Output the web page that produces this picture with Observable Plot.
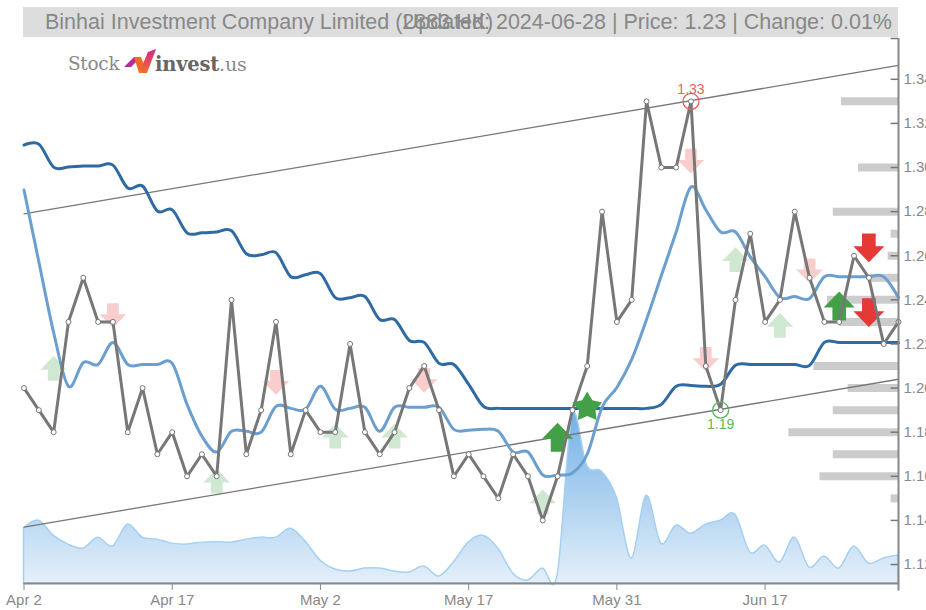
<!DOCTYPE html>
<html>
<head>
<meta charset="utf-8">
<script src="https://cdn.jsdelivr.net/npm/d3@7"></script>
<script src="https://cdn.jsdelivr.net/npm/@observablehq/plot@0.6"></script>
<style>
html,body{margin:0;padding:0;background:#fff;overflow:hidden}
#wrap{position:relative;width:926px;height:610px;overflow:hidden;font-family:"Liberation Sans",sans-serif}
#bar{position:absolute;left:23px;top:7px;width:875px;height:30px;background:#ddd}
.ttl{position:absolute;top:9px;font-size:21.5px;line-height:26px;color:#888;white-space:nowrap}
#logo{position:absolute;left:68px;top:48px;height:28px;width:190px}
#logo span{position:absolute;top:4px;font-family:"DejaVu Serif",serif;font-size:18.5px;line-height:24px;white-space:nowrap}
#chart{position:absolute;left:0;top:0}
</style>
</head>
<body>
<div id="wrap">
<div id="chart"></div>
<div id="bar"></div>
<div class="ttl" id="t1" style="left:45px"></div>
<div class="ttl" id="t2" style="right:34px"></div>
<div id="logo">
<span style="left:0;color:#8a8a8a;letter-spacing:-.3px">Stock</span>
<svg style="position:absolute;left:56px;top:1px" width="32" height="25" viewBox="0 0 32 25">
<defs><linearGradient id="chk" x1="0" y1="0" x2="0" y2="1"><stop offset="0" stop-color="#d6228f"/><stop offset="1" stop-color="#f0702a"/></linearGradient></defs>
<polygon points="0,18 10,8 17,8 7,18" fill="#b72a9a"/>
<polygon points="10,8 17,8 23,24 15,24" fill="#f26a26"/>
<polygon points="15,24 23,24 32,0 24,3" fill="url(#chk)"/>
</svg>
<span style="left:87px;color:#666;font-weight:bold;letter-spacing:-.2px;font-size:19.5px">invest<span style="position:static;font-weight:normal;color:#8a8a8a;font-size:19px">.us</span></span>
</div>
</div>
<script>
const titleLeft = "Binhai Investment Company Limited (2883.HK)";
const titleRight = "Updated: 2024-06-28 | Price: 1.23 | Change: 0.01%";

const price = [1.20,1.19,1.18,1.23,1.25,1.23,1.23,1.18,1.20,1.17,1.18,1.16,1.17,1.16,1.24,1.17,1.19,1.23,1.17,1.19,
  1.18,1.18,1.22,1.18,1.17,1.18,1.20,1.21,1.19,1.16,1.17,1.16,1.15,1.17,1.16,1.14,1.16,1.19,1.21,1.28,
  1.23,1.24,1.33,1.30,1.30,1.33,1.21,1.19,1.24,1.27,1.23,1.24,1.28,1.25,1.23,1.23,1.26,1.25,1.22,1.23];
const maLong = [1.3102,1.3106,1.3002,1.3002,1.3007,1.3007,1.3011,1.2907,1.2916,1.2803,1.2808,1.2704,1.2704,1.2708,1.2713,1.2609,1.2604,1.2614,1.2505,1.2514,
  1.2519,1.241,1.241,1.2415,1.2311,1.2311,1.2216,1.2207,1.2112,1.2107,1.2017,1.1917,1.1908,1.1908,1.1908,1.1908,1.1908,1.1908,1.1908,1.1908,
  1.1908,1.1908,1.1908,1.1926,1.2008,1.2012,1.2008,1.2017,1.2103,1.2107,1.2107,1.2107,1.2107,1.2103,1.2207,1.2207,1.2207,1.2207,1.2207,1.2207];
const maShort = [1.2898,1.2573,1.2252,1.2008,1.2116,1.2107,1.2207,1.2107,1.2107,1.2107,1.2112,1.1926,1.1782,1.171,1.1804,1.1804,1.18,1.1917,1.1908,1.1904,
  1.2008,1.1904,1.1908,1.1913,1.1804,1.1913,1.1913,1.1913,1.1913,1.1813,1.1809,1.1813,1.1804,1.171,1.171,1.1606,1.1606,1.1615,1.17,1.1913,
  1.2003,1.213,1.2311,1.251,1.2708,1.2912,1.2808,1.2708,1.2708,1.2595,1.2505,1.241,1.2415,1.2406,1.2505,1.2505,1.2505,1.2505,1.2505,1.241];
const volume = [55,63,48,39,35,46,37,59,46,44,40,39,41,41.5,41,44,46,46,55,42,
  23,14,12,15,15,12,11,17,7,21,41,48,35,10,3,15,8,168,118,112,
  86,25,88,40,58,50,59,63,69,31,38,21,46,16,27,15,37,20,25,28];
const channelTop = [1.279,1.3463];
const channelBottom = [1.137,1.204];
const profilePrice = [1.33,1.30,1.28,1.27,1.26,1.25,1.24,1.23,1.21,1.20,1.19,1.18,1.17,1.16,1.15];
const profileSize = [3.85,2.7,4.4,0.5,0.7,2,4.8,4,5.7,3.4,4.4,7.4,4.4,5.3,0.5];
const lightUpX = [2,13,21,25,35,48,51];
const lightUpY = [1.2089,1.1578,1.1782,1.1782,1.1484,1.2582,1.2284];
const lightDownX = [6,17,27,45,46,53];
const lightDownY = [1.2329,1.2026,1.2035,1.3029,1.213,1.2532];
const strongUpX = [36,55];
const strongUpY = [1.1777,1.2372];
const strongDownX = [57,57];
const strongDownY = [1.2636,1.2342];
const starX = [38];
const starY = [1.1913];
const highIdx = 45, highVal = 1.33, lowIdx = 47, lowVal = 1.19;
const xTickIdx = [0,10,20,30,40,50,59];
const xTickLabels = ["Apr 2","Apr 17","May 2","May 17","May 31","Jun 17",""];
const yTicks = [1.12,1.14,1.16,1.18,1.20,1.22,1.24,1.26,1.28,1.30,1.32,1.34];
const yMin = 1.1114, yMax = 1.3585;
const volScale = 0.000452;

document.getElementById("t1").textContent = titleLeft;
document.getElementById("t2").textContent = titleRight;

const arrowUp = {draw(c,size){const w=Math.sqrt(size),h=w*.93;
  c.moveTo(0,-h/2);c.lineTo(w/2,h*.05);c.lineTo(w*.22,h*.05);c.lineTo(w*.22,h/2);c.lineTo(-w*.22,h/2);c.lineTo(-w*.22,h*.05);c.lineTo(-w/2,h*.05);c.closePath();}};
const arrowDown = {draw(c,size){const w=Math.sqrt(size),h=w*.93;
  c.moveTo(0,h/2);c.lineTo(w/2,-h*.05);c.lineTo(w*.22,-h*.05);c.lineTo(w*.22,-h/2);c.lineTo(-w*.22,-h/2);c.lineTo(-w*.22,-h*.05);c.lineTo(-w/2,-h*.05);c.closePath();}};
const fatStar = {draw(c,size){const R=Math.sqrt(size)/2*1.05,r=R*.55;
  for(let i=0;i<10;i++){const a=-Math.PI/2+i*Math.PI/5,q=i%2?r:R,px=q*Math.cos(a),py=q*Math.sin(a);
    i?c.lineTo(px,py):c.moveTo(px,py);} c.closePath();}};

const idx = price.map((_,i)=>i);
const pts = (xs,ys)=>xs.map((x,i)=>({x,y:ys[i]}));
const gradient = () => {
  const s = d3.create("svg:defs");
  const g = s.append("linearGradient").attr("id","volGrad").attr("x1",0).attr("y1",0).attr("x2",0).attr("y2",1);
  g.append("stop").attr("offset","0").attr("stop-color","#74b2e6");
  g.append("stop").attr("offset","1").attr("stop-color","#e6f0fa");
  return s.node();
};

const gray = "#888";
const plot = Plot.plot({
  width:926, height:610,
  marginLeft:23.5, marginRight:28, marginTop:38, marginBottom:27,
  style:{background:"transparent",fontFamily:"Liberation Sans",overflow:"hidden"},
  x:{domain:[0,59],axis:null},
  y:{domain:[yMin,yMax],axis:null},
  marks:[
    gradient,
    Plot.ruleY(profilePrice,{y:d=>d,x1:(d,i)=>59-profileSize[i],x2:59,stroke:"#ccc",strokeWidth:8}),
    Plot.areaY(idx,{x:i=>i,y1:yMin,y2:i=>yMin+volume[i]*volScale,curve:"cardinal",fill:"url(#volGrad)",stroke:"#a5d0f2",strokeWidth:1.5}),
    Plot.line([0,59],{x:d=>d,y:(d,i)=>channelTop[i],stroke:"#777",strokeWidth:1.3}),
    Plot.line([0,59],{x:d=>d,y:(d,i)=>channelBottom[i],stroke:"#777",strokeWidth:1.3}),
    Plot.line(idx,{x:i=>i,y:i=>maLong[i],curve:"cardinal",stroke:"#2f6aa3",strokeWidth:3}),
    Plot.line(idx,{x:i=>i,y:i=>maShort[i],curve:"cardinal",stroke:"#6a9fcf",strokeWidth:3}),
    Plot.dot(pts(lightUpX,lightUpY),{x:"x",y:"y",r:15,symbol:arrowUp,fill:"#43a047",fillOpacity:.25,stroke:"none"}),
    Plot.dot(pts(lightDownX,lightDownY),{x:"x",y:"y",r:15,symbol:arrowDown,fill:"#e53935",fillOpacity:.25,stroke:"none"}),
    Plot.dot(pts(strongUpX,strongUpY),{x:"x",y:"y",r:17.5,symbol:arrowUp,fill:"#43a047",stroke:"none"}),
    Plot.dot(pts(strongDownX,strongDownY),{x:"x",y:"y",r:17.5,symbol:arrowDown,fill:"#e53935",stroke:"none"}),
    Plot.line(idx,{x:i=>i,y:i=>price[i],stroke:"#777",strokeWidth:3,strokeLinejoin:"miter"}),
    Plot.dot(pts(starX,starY),{x:"x",y:"y",r:17,symbol:fatStar,fill:"#43a047",stroke:"none"}),
    Plot.dot(idx,{x:i=>i,y:i=>price[i],r:2.5,fill:"#fff",stroke:"#777",strokeWidth:1}),
    Plot.dot([highIdx],{x:d=>d,y:highVal,r:8,fill:"none",stroke:"#ec5f5f",strokeWidth:1.3}),
    Plot.text([highIdx],{x:d=>d,y:highVal,text:()=>highVal.toFixed(2),dy:-12,fill:"#ec5f5f",fontSize:14}),
    Plot.dot([lowIdx],{x:d=>d,y:lowVal,r:8,fill:"none",stroke:"#5cb85c",strokeWidth:1.3}),
    Plot.text([lowIdx],{x:d=>d,y:lowVal,text:()=>lowVal.toFixed(2),dy:14,fill:"#5cb85c",fontSize:14}),
    Plot.ruleY([yMin],{x1:0,x2:59,stroke:gray,strokeWidth:2}),
    Plot.ruleX([59],{y1:yMin-0.0034,y2:yMax,stroke:gray,strokeWidth:2}),
    Plot.ruleY([...yTicks,yMax],{y:d=>d,x1:59-0.5,x2:59,stroke:"#777",strokeWidth:1.5}),
    Plot.axisY({anchor:"right",ticks:yTicks,tickFormat:".2f",tickSize:0,tickPadding:5,label:null,fontSize:15,color:gray}),
    Plot.axisX({ticks:xTickIdx,tickFormat:i=>xTickLabels[xTickIdx.indexOf(i)],tickSize:7,tickPadding:4,label:null,fontSize:15,color:gray,stroke:gray})
  ]
});
document.getElementById("chart").appendChild(plot);
</script>
</body>
</html>
